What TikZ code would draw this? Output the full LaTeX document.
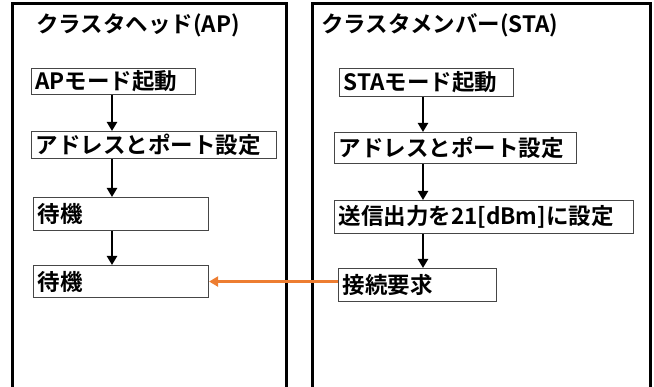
\documentclass[tikz,border=0pt]{standalone}
\usepackage{fontspec}
\setmainfont{Noto Sans CJK JP Bold}
\usetikzlibrary{arrows.meta}
\definecolor{orangeA}{RGB}{237,125,49}
\definecolor{boxgray}{RGB}{70,70,70}
\begin{document}
\begin{tikzpicture}[x=1pt,y=-1pt,
  lane/.style={draw=black,line width=3pt},
  fbox/.style={draw=boxgray,line width=1.1pt,anchor=north west,inner xsep=4pt,inner ysep=0pt,
    align=left,font=\fontsize{22.5}{25}\selectfont},
  ttl/.style={anchor=west,inner sep=0pt,font=\fontsize{22.5}{25}\selectfont},
  arr/.style={draw=black,line width=2.8pt,-{Triangle[length=9pt,width=10pt]}},
  oarr/.style={draw=orangeA,line width=2.6pt,-{Triangle[length=9pt,width=10pt]}}]
\useasboundingbox (0,0) rectangle (654,387);
\clip (0,0) rectangle (654,387);
\draw[lane] (12,4) rectangle (286,400);
\draw[lane] (312,4) rectangle (650,400);
\node[ttl] (tL) at (36,25) {クラスタヘッド(AP)};
\node[ttl] (tR) at (321,25) {クラスタメンバー(STA)};
% left boxes
\node[fbox,text width=156pt,minimum height=26pt] (L1) at (31,68) {\mbox{APモード起動}};
\node[fbox,text width=237pt,minimum height=27pt] (L2) at (31,131) {\mbox{アドレスとポート設定}};
\node[fbox,text width=167pt,minimum height=33pt] (L3) at (33,197) {\mbox{待機}};
\node[fbox,text width=167pt,minimum height=32pt] (L4) at (33,265) {\mbox{待機}};
% right boxes
\node[fbox,text width=166pt,minimum height=28pt] (R1) at (339,68) {\mbox{STAモード起動}};
\node[fbox,text width=234pt,minimum height=31pt] (R2) at (334,132) {\mbox{アドレスとポート設定}};
\node[fbox,text width=291pt,minimum height=33pt] (R3) at (334,200) {\mbox{送信出力を21[dBm]に設定}};
\node[fbox,text width=150pt,minimum height=33pt] (R4) at (338,268) {\mbox{接続要求}};
\coordinate (axL) at (112,0);
\coordinate (axR) at (423,0);
\draw[arr] (L1.south -| axL) -- (L2.north -| axL);
\draw[arr] (L2.south -| axL) -- (L3.north -| axL);
\draw[arr] (L3.south -| axL) -- (L4.north -| axL);
\draw[arr] (R1.south -| axR) -- (R2.north -| axR);
\draw[arr] (R2.south -| axR) -- (R3.north -| axR);
\draw[arr] (R3.south -| axR) -- (R4.north -| axR);
\draw[oarr] (R4.west |- L4.east) -- (L4.east);
\end{tikzpicture}
\end{document}
